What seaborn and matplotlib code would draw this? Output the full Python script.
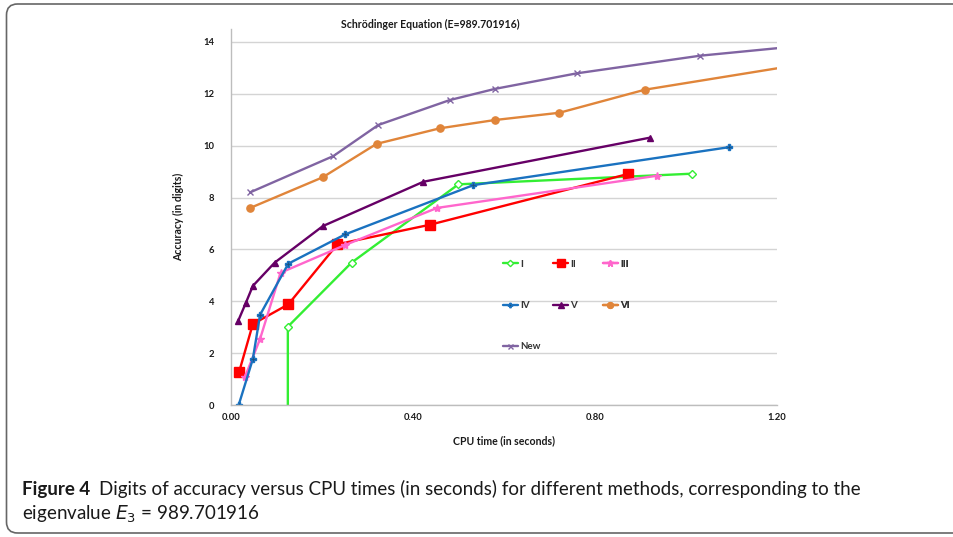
import matplotlib
matplotlib.use("Agg")
import matplotlib.pyplot as plt
import matplotlib.transforms as mtransforms
from matplotlib.patches import FancyBboxPatch
import pandas as pd
import seaborn as sns

# Data (CPU time in s, accuracy in digits)
I_x = [0.125, 0.125, 0.265, 0.500, 1.013]
I_y = [-0.5, 3.02, 5.49, 8.51, 8.92]

II_x = [0.018, 0.048, 0.126, 0.234, 0.437, 0.873]
II_y = [1.28, 3.12, 3.88, 6.20, 6.95, 8.91]

III_x = [0.031, 0.064, 0.109, 0.251, 0.453, 0.936]
III_y = [1.09, 2.55, 5.10, 6.17, 7.60, 8.84]

IV_x = [0.017, 0.048, 0.064, 0.126, 0.251, 0.533, 1.094]
IV_y = [0.0, 1.77, 3.48, 5.45, 6.58, 8.48, 9.94]

V_x = [0.016, 0.033, 0.048, 0.096, 0.202, 0.423, 0.921]
V_y = [3.25, 3.95, 4.59, 5.49, 6.90, 8.61, 10.31]

VI_x = [0.041, 0.2015, 0.320, 0.459, 0.580, 0.722, 0.910, 1.40]
VI_y = [7.59, 8.78, 10.07, 10.67, 10.99, 11.27, 12.16, 13.55]

New_x = [0.042, 0.225, 0.324, 0.481, 0.580, 0.760, 1.031, 1.40]
New_y = [8.20, 9.60, 10.80, 11.76, 12.19, 12.79, 13.47, 14.10]

x_ticks = [0.0, 0.4, 0.8, 1.2]
x_ticklabels = ["0.00", "0.40", "0.80", "1.20"]
y_ticks = [0, 2, 4, 6, 8, 10, 12, 14]

series = [
    # name, x, y, color, marker, size, facecolor
    ("I", I_x, I_y, "#33ee33", "D", 4, "white"),
    ("II", II_x, II_y, "#ff0000", "s", 6.5, "#ff0000"),
    ("III", III_x, III_y, "#ff66cc", "*", 6, "#ff66cc"),
    ("IV", IV_x, IV_y, "#1a72c0", "P", 4, "#1f4e79"),
    ("V", V_x, V_y, "#660066", "^", 5, "#660066"),
    ("VI", VI_x, VI_y, "#e0853a", "o", 5.2, "#e0853a"),
    ("New", New_x, New_y, "#8064a2", "x", 4.5, "#8064a2"),
]

sns.set_style("white")
plt.rcParams["font.family"] = ["Lato", "DejaVu Sans"]
plt.rcParams["mathtext.fontset"] = "dejavusans"

fig = plt.figure(figsize=(9.54, 5.37), dpi=100)
ax = fig.add_axes([0.2421, 0.2458, 0.5723, 0.7002])

for name, xs, ys, col, mk, ms, fc in series:
    df = pd.DataFrame({"t": xs, "acc": ys})
    sns.lineplot(data=df, x="t", y="acc", ax=ax, estimator=None, sort=False,
                 color=col, lw=1.7, marker=mk, markersize=ms,
                 markerfacecolor=fc, markeredgecolor=col,
                 markeredgewidth=1.0, label=name)

ax.set_xlim(0, 1.2)
ax.set_ylim(0, 14.5)
ax.set_xticks(x_ticks)
ax.set_xticklabels(x_ticklabels)
ax.set_yticks(y_ticks)
ax.grid(axis="y", color="#d4d4d4", lw=1)
ax.set_axisbelow(True)
for s in ["top", "right"]:
    ax.spines[s].set_visible(False)
for s in ["left", "bottom"]:
    ax.spines[s].set_color("#bdbdbd")
    ax.spines[s].set_linewidth(1)
ax.tick_params(axis="both", length=3, color="#bdbdbd", labelsize=6.8)
ax.tick_params(axis="x", pad=3)
ax.tick_params(axis="y", pad=9)
for lab in ax.get_xticklabels() + ax.get_yticklabels():
    lab.set_fontweight("bold")
    lab.set_color("#1a1a1a")

ax.set_xlabel("CPU time (in seconds)", fontsize=7.6, fontweight="bold",
              color="#1a1a1a", labelpad=9)
ax.set_ylabel("Accuracy (in digits)", fontsize=7.6, fontweight="bold",
              color="#1a1a1a", labelpad=14)

fig.text(430 / 954, 1 - 24 / 537, "Schrödinger Equation (E=989.701916)",
         fontsize=7.6, fontweight="bold", color="#1a1a1a",
         ha="center", va="center")

# legend as three columns
handles, labels = ax.get_legend_handles_labels()
ax.get_legend().remove()
hmap = dict(zip(labels, handles))
cols = [["I", "IV", "New"], ["II", "V"], ["III", "VI"]]
xpos = [0.498, 0.590, 0.681]
for names, xp in zip(cols, xpos):
    leg = ax.legend([hmap[n] for n in names], names, loc="upper left",
                    bbox_to_anchor=(xp, 0.386), frameon=False, borderpad=0,
                    borderaxespad=0, handlelength=1.55, handletextpad=0.2,
                    labelspacing=3.3, markerscale=0.8,
                    prop={"size": 7, "weight": "bold"})
    for t in leg.get_texts():
        t.set_color("#333333")
    ax.add_artist(leg)

# caption
cap_size = 13.5
renderer = fig.canvas.get_renderer()
t1 = fig.text(22 / 954, 1 - 489 / 537, "Figure 4", fontsize=cap_size,
              fontweight="bold", color="#1a1a1a", va="center")
bb = t1.get_window_extent(renderer)
fig.text((bb.x1 + 9) / 954, 1 - 489 / 537,
         "Digits of accuracy versus CPU times (in seconds) for different methods, corresponding to the",
         fontsize=cap_size, color="#1a1a1a", va="center")
fig.text(22 / 954, 1 - 514 / 537, "eigenvalue $E_3$ = 989.701916",
         fontsize=cap_size, color="#1a1a1a", va="center")

# rounded frame around the figure
frame = FancyBboxPatch((6.5, 537 - 533), 1200, 529,
                       boxstyle="round,pad=0,rounding_size=11",
                       transform=mtransforms.IdentityTransform(),
                       fill=False, edgecolor="#666666", lw=1.2)
fig.add_artist(frame)

fig.savefig("out.png", dpi=100)
